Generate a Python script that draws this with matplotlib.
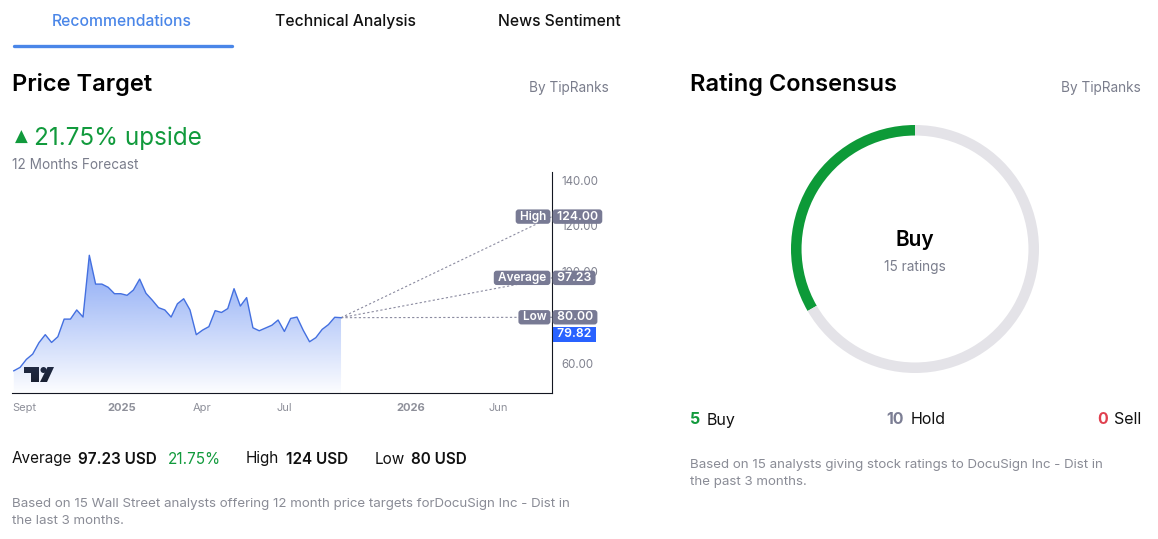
import numpy as np
import pandas as pd
import matplotlib
matplotlib.use('Agg')
import matplotlib.pyplot as plt
import matplotlib.dates as mdates
from matplotlib.patches import Polygon, Circle

plt.rcParams['font.family'] = ['Inter', 'DejaVu Sans']

# weekly closing prices (USD)
price = [56.6, 58.1, 61.6, 63.9, 68.9, 72.4, 69.0, 71.5, 79.2, 79.2,
         83.2, 80.1, 107.1, 94.5, 94.5, 93.1, 90.3, 90.3, 89.6, 91.9,
         96.7, 90.5, 87.5, 84.2, 83.2, 80.1, 85.9, 88.1, 83.2, 72.4,
         74.4, 75.9, 82.9, 82.1, 83.8, 92.5, 84.9, 88.6, 75.4, 74.1,
         75.3, 76.5, 78.8, 73.8, 79.5, 80.1, 74.3, 69.3, 71.1, 74.7,
         76.8, 80.0, 79.82]
start_date = '2024-09-03'
target_date = '2026-09-02'
axis_start = '2024-09-01'

targets = ['High', 'Average', 'Low']
target_vals = [124.00, 97.23, 80.00]
current = 79.82

yticks = [60, 100, 120, 140]   # the 80.00 tick sits fully under the "Low" tag
xtick_dates = ['2024-09-01', '2025-01-01', '2025-04-01', '2025-07-01', '2026-01-01', '2026-06-01']
xtick_labels = ['Sept', '2025', 'Apr', 'Jul', '2026', 'Jun']

rating_names = ['Buy', 'Hold', 'Sell']
rating_counts = [5, 10, 0]
rating_colors = ['#0d9a38', '#e4e3e8', '#e04050']
rating_num_colors = ['#119a3c', '#7c7e94', '#e0404f']

W, H = 1158, 539
fig = plt.figure(figsize=(W / 100, H / 100), dpi=100)
fig.patch.set_facecolor('white')

# overlay in pixel coordinates for the page text
ov = fig.add_axes([0, 0, 1, 1])
ov.set_xlim(0, W)
ov.set_ylim(H, 0)
ov.axis('off')

grey = '#7a7d8c'
ov.text(122, 21.5, 'Recommendations', color='#4a86e8', fontsize=11.3, ha='center', va='center', fontweight='medium')
ov.text(345, 21.5, 'Technical Analysis', color='#111111', fontsize=11.3, ha='center', va='center', fontweight='medium')
ov.text(559, 21.5, 'News Sentiment', color='#111111', fontsize=11.3, ha='center', va='center', fontweight='medium')
ov.plot([14, 232], [45.5, 45.5], color='#4a86e8', lw=2.4, solid_capstyle='round')

ov.text(12, 84.5, 'Price Target', fontsize=17, fontweight='semibold', ha='left', va='center', color='#000000')
ov.text(609, 88, 'By TipRanks', fontsize=9.8, ha='right', va='center', color=grey)
ov.text(15, 137, '\u25B2', fontsize=12, ha='left', va='center', color='#119a3c', family=['DejaVu Sans'])
ov.text(34, 138, '21.75% upside', fontsize=17.5, ha='left', va='center', color='#119a3c')
ov.text(12, 165, '12 Months Forecast', fontsize=9.8, ha='left', va='center', color=grey)

fs = 11
ov.text(12, 459, 'Average', fontsize=fs, ha='left', va='center', color='#111111')
ov.text(78, 459, '97.23 USD', fontsize=fs, ha='left', va='center', color='#111111', fontweight='semibold')
ov.text(168, 459, '21.75%', fontsize=fs, ha='left', va='center', color='#119a3c')
ov.text(246, 459, 'High', fontsize=fs, ha='left', va='center', color='#111111')
ov.text(286, 459, '124 USD', fontsize=fs, ha='left', va='center', color='#111111', fontweight='semibold')
ov.text(375, 459, 'Low', fontsize=fs, ha='left', va='center', color='#111111')
ov.text(411, 459, '80 USD', fontsize=fs, ha='left', va='center', color='#111111', fontweight='semibold')
ov.text(12, 504, 'Based on 15 Wall Street analysts offering 12 month price targets forDocuSign Inc - Dist in',
        fontsize=9.6, ha='left', va='center', color='#8a8c96')
ov.text(12, 521, 'the last 3 months.', fontsize=9.6, ha='left', va='center', color='#8a8c96')

ov.text(690, 84.5, 'Rating Consensus', fontsize=17, fontweight='semibold', ha='left', va='center', color='#000000')
ov.text(1141, 88, 'By TipRanks', fontsize=9.8, ha='right', va='center', color=grey)
ov.text(915, 240, 'Buy', fontsize=15, fontweight='semibold', ha='center', va='center', color='#000000')
ov.text(915, 267, '%d ratings' % sum(rating_counts), fontsize=9.8, ha='center', va='center', color=grey)

for (xn, xl), name, cnt, c in zip([(690, 707), (886, 911), (1097, 1114)], rating_names,
                                   rating_counts, rating_num_colors):
    ov.text(xn, 420, str(cnt), fontsize=11.5, fontweight='bold', ha='left', va='center', color=c)
    ov.text(xl, 420, name, fontsize=11.5, ha='left', va='center', color='#111111')
ov.text(690, 465, 'Based on 15 analysts giving stock ratings to DocuSign Inc - Dist in',
        fontsize=9.6, ha='left', va='center', color='#8a8c96')
ov.text(690, 482, 'the past 3 months.', fontsize=9.6, ha='left', va='center', color='#8a8c96')

# price chart
dates = pd.date_range(start_date, periods=len(price), freq='7D')
t = mdates.date2num(dates.to_pydatetime())
t_end = t[-1]
t_target = mdates.date2num(pd.Timestamp(target_date).to_pydatetime())
t_start = mdates.date2num(pd.Timestamp(axis_start).to_pydatetime())
k = 0.643  # future part of the axis is compressed


def fwd(x):
    x = np.asarray(x, dtype=float)
    return np.where(x <= t_end, x, t_end + (x - t_end) * k)


def inv(y):
    y = np.asarray(y, dtype=float)
    return np.where(y <= t_end, y, t_end + (y - t_end) / k)


ax = fig.add_axes([12 / W, 1 - 393 / H, 540 / W, 221 / H])
ax.patch.set_alpha(0)
ax.set_xscale('function', functions=(fwd, inv))
ymin, ymax = 46.9, 143.5

ax.plot(t, price, color='#4470e0', lw=1.0, zorder=3)
verts = list(zip(t, price)) + [(t[-1], ymin), (t[0], ymin)]
poly = Polygon(verts, closed=True, facecolor='none', edgecolor='none')
ax.add_patch(poly)
grad = np.zeros((256, 1, 4))
grad[:, 0, 0] = 0.40
grad[:, 0, 1] = 0.56
grad[:, 0, 2] = 0.95
grad[:, 0, 3] = np.linspace(0.02, 0.8, 256)
img = ax.imshow(grad, extent=[0, 1, 0, 0.63], transform=ax.transAxes, aspect='auto',
                origin='lower', zorder=2)
img.set_clip_path(poly)

for v in target_vals:
    ax.plot([t_end, t_target], [price[-1], v], color='#8b8ba0', lw=0.8, ls=(0, (2, 2)), zorder=2)

ax.set_xlim(t_start, t_target)
ax.set_ylim(ymin, ymax)

for s in ['left', 'top']:
    ax.spines[s].set_visible(False)
for s in ['right', 'bottom']:
    ax.spines[s].set_color('#131722')
    ax.spines[s].set_linewidth(0.8)

ax.yaxis.tick_right()
ax.set_yticks(yticks)
ax.set_yticklabels(['%.2f' % v for v in yticks])
ax.tick_params(axis='y', length=0, pad=7, labelsize=8.3, labelcolor='#80828f')
ax.set_xticks(mdates.date2num([pd.Timestamp(d).to_pydatetime() for d in xtick_dates]))
ax.set_xticklabels(xtick_labels)
ax.tick_params(axis='x', length=0, pad=7.5, labelsize=8, labelcolor='#8e909a')
for lab in ax.get_xticklabels():
    if lab.get_text() in ('2025', '2026'):
        lab.set_fontweight('bold')
    if lab.get_text() == 'Sept':
        lab.set_horizontalalignment('left')

box = '#787a94'
tr = ax.get_yaxis_transform()
for name, v in zip(targets, target_vals):
    ax.annotate(' %.2f ' % v, xy=(1, v), xycoords=tr, xytext=(1.3, 0), textcoords='offset points',
                ha='left', va='center', color='white', fontsize=8.8, fontweight='semibold',
                bbox=dict(boxstyle='round,pad=0.1,rounding_size=0.25', fc=box, ec='none'),
                zorder=10, annotation_clip=False)
    ax.annotate(' %s ' % name, xy=(1, v), xycoords=tr, xytext=(-2.0, 0), textcoords='offset points',
                ha='right', va='center', color='white', fontsize=8.5, fontweight='semibold',
                bbox=dict(boxstyle='round,pad=0.1,rounding_size=0.25', fc=box, ec='none'),
                zorder=10, annotation_clip=False)
ax.annotate(' %.2f ' % current, xy=(1, current), xycoords=tr, xytext=(1.3, -12), textcoords='offset points',
            ha='left', va='center', color='white', fontsize=8.8, fontweight='semibold',
            bbox=dict(boxstyle='square,pad=0.1', fc='#2962ff', ec='none'),
            zorder=10, annotation_clip=False)

# TradingView logo
ov.add_patch(Polygon([(24, 367), (39, 367), (39, 382), (31, 382), (31, 373), (24, 373)],
                     closed=True, fc='#131722', ec='none', zorder=5))
ov.add_patch(Circle((43.5, 370), 3.0, fc='#131722', ec='none', zorder=5))
ov.add_patch(Polygon([(40, 382), (47, 382), (54, 367), (47.5, 367)],
                     closed=True, fc='#131722', ec='none', zorder=5))

# rating donut
R = 124
pax = fig.add_axes([(915 - R) / W, 1 - (249 + R) / H, 2 * R / W, 2 * R / H])
pax.pie(rating_counts, colors=rating_colors, startangle=90, counterclock=True,
        wedgeprops=dict(width=0.085, edgecolor='none'), radius=1.0)
pax.set_xlim(-1, 1)
pax.set_ylim(-1, 1)
pax.set_aspect('equal')
pax.axis('off')

fig.savefig('out.png', dpi=100, facecolor='white')
